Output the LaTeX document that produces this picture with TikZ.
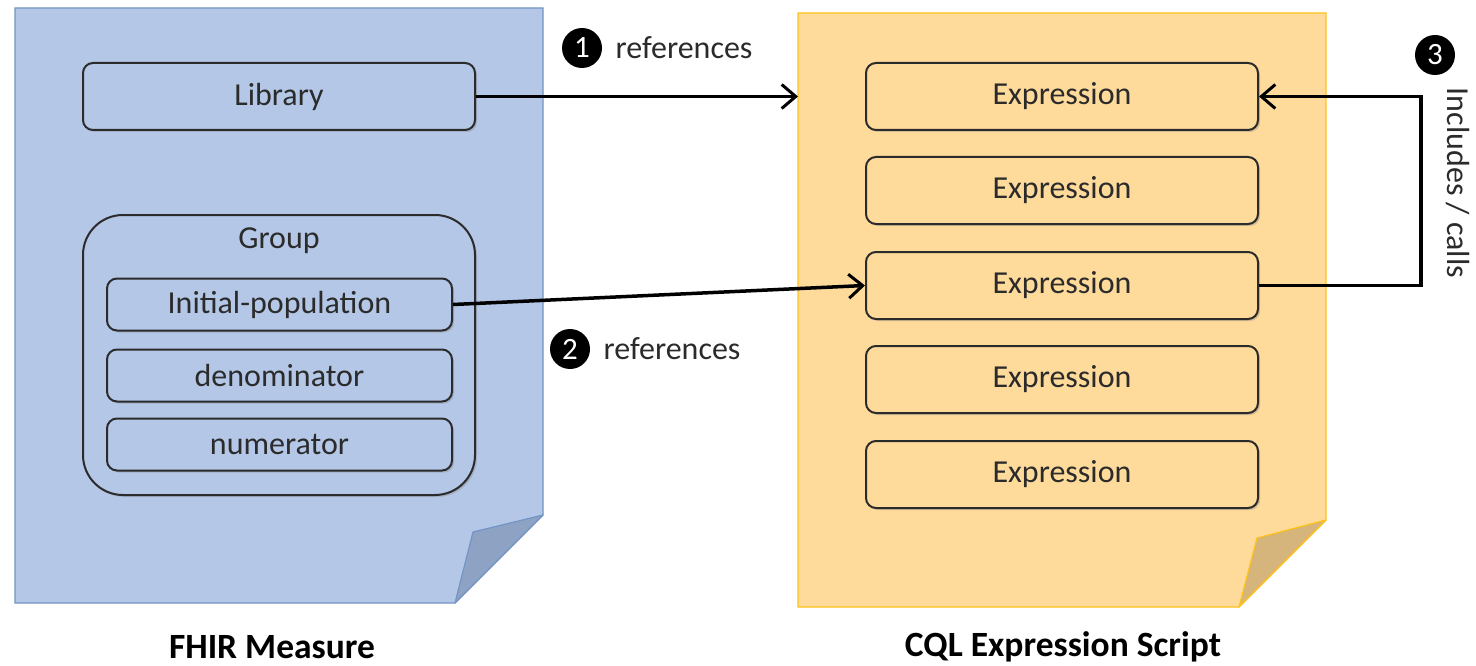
\documentclass[tikz,border=0pt]{standalone}
\usepackage{fontspec}
\setmainfont{Carlito}
\usetikzlibrary{arrows.meta,shadows,positioning}

\definecolor{measureblue}{HTML}{B4C7E7}
\definecolor{measureedge}{HTML}{7394C4}
\definecolor{measureflap}{HTML}{8EA2C3}
\definecolor{cqlorange}{HTML}{FFDB9B}
\definecolor{cqledge}{HTML}{FFC21A}
\definecolor{cqlflap}{HTML}{D5B57B}
\definecolor{textgray}{HTML}{2B2B2B}

\begin{document}
\begin{tikzpicture}
	[x=1pt, y=-1pt,
	 box/.style={rectangle, rounded corners=10pt, draw=textgray, line width=2pt,
		minimum width=392pt, minimum height=67pt, text=textgray,
		font=\fontsize{32}{36}\selectfont,
		drop shadow={shadow xshift=2pt, shadow yshift=-2pt, opacity=0.35}},
	 bluebox/.style={box, fill=measureblue},
	 orangebox/.style={box, fill=cqlorange},
	 popbox/.style={bluebox, minimum width=345pt, minimum height=52pt},
	 num/.style={circle, fill=black, text=white, inner sep=0pt, minimum size=40pt,
		font=\fontsize{31}{33}\selectfont},
	 lbl/.style={text=textgray, font=\fontsize{32}{36}\selectfont},
	 title/.style={text=black, font=\fontsize{35.5}{40}\selectfont\bfseries},
	 link/.style={line width=3.5pt, -{Straight Barb[length=14pt, width=24pt, line width=3pt]}}]
	\useasboundingbox (0,0) rectangle (1476,666);
	\fill[white] (0,0) rectangle (1476,666);

	\draw[measureedge, fill=measureblue, line width=1.2pt]
		(15,8) -- (543,8) -- (543,515) -- (455,603) -- (15,603) -- cycle;
	\draw[measureedge, fill=measureflap, line width=1.2pt, line join=round]
		(543,515) -- (473,532) -- (455,603) -- cycle;

	\draw[cqledge, fill=cqlorange, line width=1.2pt]
		(798,13) -- (1326,13) -- (1326,520) -- (1239,607) -- (798,607) -- cycle;
	\draw[cqledge, fill=cqlflap, line width=1.2pt, line join=round]
		(1326,520) -- (1257,538) -- (1239,607) -- cycle;

	\node[bluebox] (library) at (279,96.5) {Library};
	\node[bluebox, rounded corners=40pt, minimum height=280pt] (group) at (279,355) {};
	\node[lbl] (grouplbl) at (279,241) {Group};
	\node[popbox] (initpop) at (279.5,304.5) {Initial-population};
	\node[popbox, below=17pt of initpop] (denom) {denominator};
	\node[popbox, below=15pt of denom] (numer) {numerator};

	\foreach \i/\y in {1/96.5,2/190.5,3/285.5,4/379.5,5/474.5}
		\node[orangebox] (expr\i) at (1062,\y) {Expression};

	\coordinate (cqlleft) at (798,96.5);
	\coordinate (loop) at (1421,285.5);
	\draw[link] (library.east) -- (cqlleft);
	\draw[link] (initpop.east) -- (expr3.west);
	\draw[link, line join=miter] (expr3.east) -- (loop) |- (expr1.east);

	\node[num] (n1) at (582,48) {1};
	\node[lbl, right=10pt of n1] (ref1) {references};
	\node[num] (n2) at (570,349) {2};
	\node[lbl, right=10pt of n2] (ref2) {references};
	\node[num] (n3) at (1435,55) {3};
	\node[lbl, rotate=-90] (calls) at (1458,183) {Includes / calls};

	\node[title] (fhir) at (272,647) {FHIR Measure};
	\node[title] (cql) at (1063,647) {CQL Expression Script};
\end{tikzpicture}
\end{document}
